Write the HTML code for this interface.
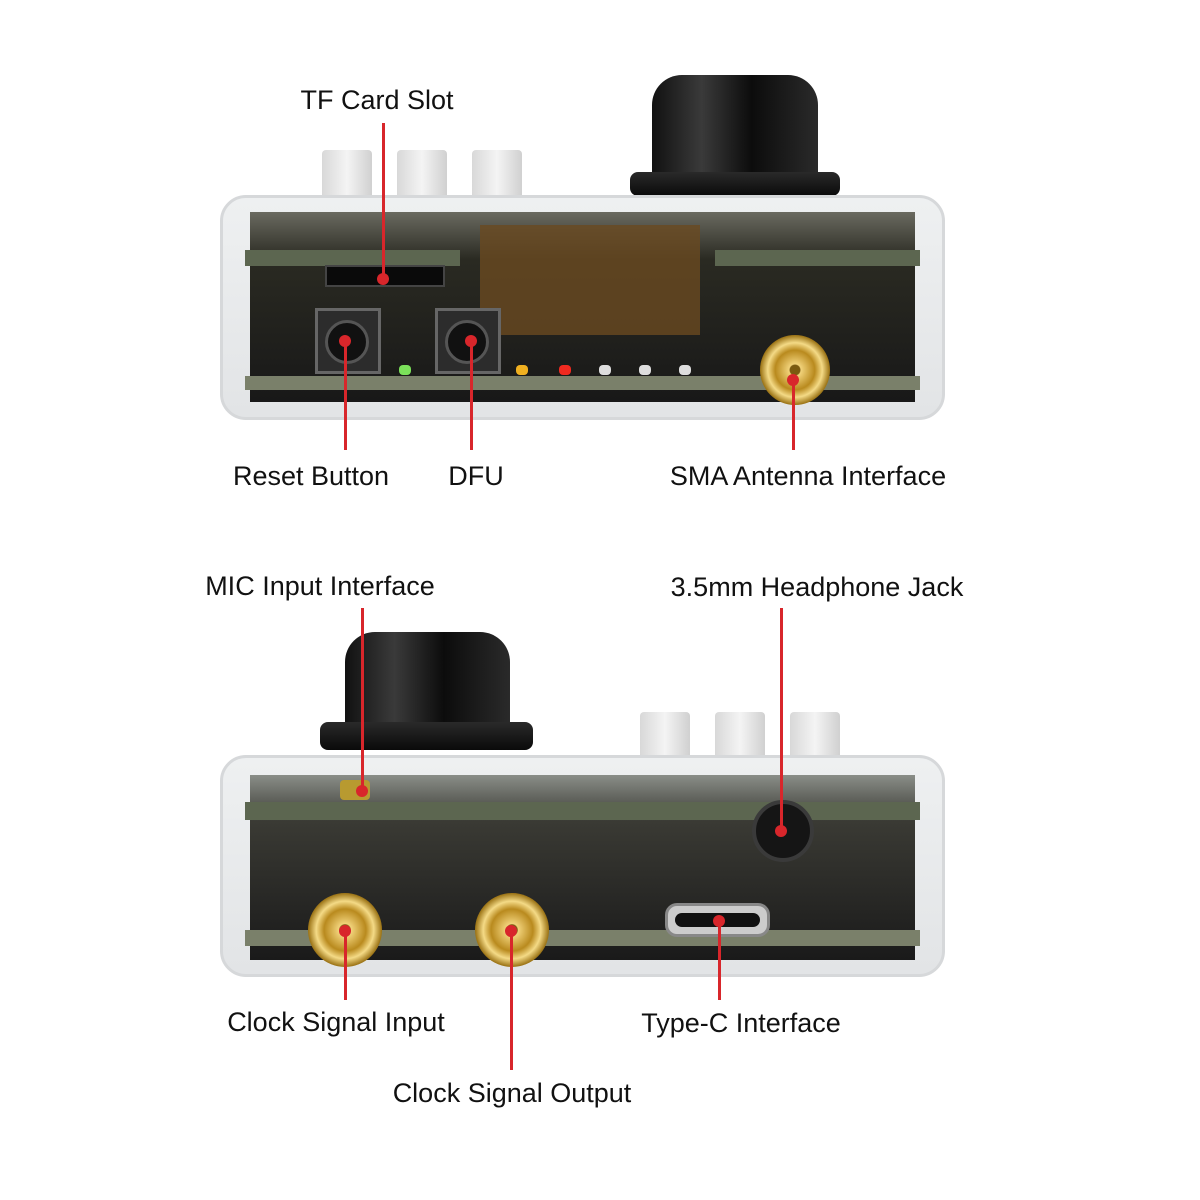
<!DOCTYPE html>
<html><head><meta charset="utf-8"><style>
html,body{margin:0;padding:0;background:#fff;}
body{width:1200px;height:1200px;position:relative;overflow:hidden;font-family:"Liberation Sans",sans-serif;}
div{position:absolute;box-sizing:border-box;}
.lbl{font-size:27px;color:#111;white-space:nowrap;transform:translateX(-50%);line-height:30px;}
.rl{background:#d8262b;width:3px;}
.dot{width:12px;height:12px;border-radius:50%;background:#d8262b;}
.case{border:3px solid #d6d8da;border-radius:26px;background:linear-gradient(#eef0f1,#e2e4e6);}
.inner{background:#1f1f1f;}
.pcb{background:#5c6650;}
.wbtn{background:linear-gradient(90deg,#d8d8d8,#f4f4f4,#d0d0d0);border-radius:4px 4px 0 0;}
.sma{border-radius:50%;background:radial-gradient(circle,#7a5a10 0 10%,#f1d27a 12%,#b98a1e 40%,#f4da86 55%,#9c7416 70%,#e7c46a 85%,#caa045 100%);}
.led{width:12px;height:10px;border-radius:4px;}
</style></head><body>

<!-- TOP DEVICE -->
<div class="wbtn" style="left:322px;top:150px;width:50px;height:52px"></div>
<div class="wbtn" style="left:397px;top:150px;width:50px;height:52px"></div>
<div class="wbtn" style="left:472px;top:150px;width:50px;height:52px"></div>
<div style="left:652px;top:75px;width:166px;height:110px;border-radius:30px 30px 6px 6px;background:linear-gradient(90deg,#111,#3a3a3a 30%,#0c0c0c 60%,#2a2a2a)"></div>
<div style="left:630px;top:172px;width:210px;height:24px;border-radius:8px;background:linear-gradient(#2a2a2a,#0a0a0a)"></div>
<div class="case" style="left:220px;top:195px;width:725px;height:225px"></div>
<div class="inner" style="left:250px;top:212px;width:665px;height:190px;background:linear-gradient(#6a6a60,#2a2a22 25%,#181818)"></div>
<div style="left:480px;top:225px;width:220px;height:110px;background:#6a4a20;opacity:.8"></div>
<div class="pcb" style="left:245px;top:250px;width:215px;height:16px"></div>
<div class="pcb" style="left:715px;top:250px;width:205px;height:16px"></div>
<div class="pcb" style="left:245px;top:376px;width:675px;height:14px;background:#7a806a"></div>
<div style="left:325px;top:265px;width:120px;height:22px;background:#0a0a0a;border:2px solid #444"></div>
<div style="left:315px;top:308px;width:66px;height:66px;background:#2c2c2c;border:3px solid #666"></div>
<div style="left:435px;top:308px;width:66px;height:66px;background:#2c2c2c;border:3px solid #666"></div>
<div style="left:325px;top:320px;width:44px;height:44px;border-radius:50%;background:#111;border:3px solid #555"></div>
<div style="left:445px;top:320px;width:44px;height:44px;border-radius:50%;background:#111;border:3px solid #555"></div>
<div class="led" style="left:399px;top:365px;background:#7be05a"></div>
<div class="led" style="left:516px;top:365px;background:#f0b020"></div>
<div class="led" style="left:559px;top:365px;background:#f02a20"></div>
<div class="led" style="left:599px;top:365px;background:#ddd"></div>
<div class="led" style="left:639px;top:365px;background:#ddd"></div>
<div class="led" style="left:679px;top:365px;background:#ddd"></div>
<div class="sma" style="left:760px;top:335px;width:70px;height:70px"></div>

<div class="rl" style="left:382px;top:123px;height:157px"></div><div class="dot" style="left:377px;top:273px"></div>
<div class="rl" style="left:344px;top:340px;height:110px"></div><div class="dot" style="left:339px;top:335px"></div>
<div class="rl" style="left:470px;top:340px;height:110px"></div><div class="dot" style="left:465px;top:335px"></div>
<div class="rl" style="left:792px;top:378px;height:72px"></div><div class="dot" style="left:787px;top:374px"></div>

<div class="lbl" style="left:377px;top:85px">TF Card Slot</div>
<div class="lbl" style="left:311px;top:461px">Reset Button</div>
<div class="lbl" style="left:476px;top:461px">DFU</div>
<div class="lbl" style="left:808px;top:461px">SMA Antenna Interface</div>

<!-- BOTTOM DEVICE -->
<div class="wbtn" style="left:640px;top:712px;width:50px;height:50px"></div>
<div class="wbtn" style="left:715px;top:712px;width:50px;height:50px"></div>
<div class="wbtn" style="left:790px;top:712px;width:50px;height:50px"></div>
<div style="left:345px;top:632px;width:165px;height:100px;border-radius:30px 30px 6px 6px;background:linear-gradient(90deg,#111,#3a3a3a 30%,#0c0c0c 60%,#2a2a2a)"></div>
<div style="left:320px;top:722px;width:213px;height:28px;border-radius:8px;background:linear-gradient(#2a2a2a,#0a0a0a)"></div>
<div class="case" style="left:220px;top:755px;width:725px;height:222px"></div>
<div class="inner" style="left:250px;top:775px;width:665px;height:185px;background:linear-gradient(#8a8e88,#3a3a34 25%,#1a1a1a)"></div>
<div class="pcb" style="left:245px;top:802px;width:675px;height:18px"></div>
<div class="pcb" style="left:245px;top:930px;width:675px;height:16px;background:#7a806a"></div>
<div style="left:340px;top:780px;width:30px;height:20px;background:#b89a30;border-radius:4px"></div>
<div style="left:665px;top:903px;width:105px;height:34px;border-radius:12px;background:#ccc;border:3px solid #888"></div>
<div style="left:675px;top:913px;width:85px;height:14px;border-radius:7px;background:#111"></div>
<div style="left:752px;top:800px;width:62px;height:62px;border-radius:50%;background:#151515;border:4px solid #3a3a3a"></div>
<div class="sma" style="left:308px;top:893px;width:74px;height:74px"></div>
<div class="sma" style="left:475px;top:893px;width:74px;height:74px"></div>

<div class="rl" style="left:361px;top:608px;height:182px"></div><div class="dot" style="left:356px;top:785px"></div>
<div class="rl" style="left:780px;top:608px;height:222px"></div><div class="dot" style="left:775px;top:825px"></div>
<div class="rl" style="left:344px;top:930px;height:70px"></div><div class="dot" style="left:339px;top:925px"></div>
<div class="rl" style="left:510px;top:930px;height:140px"></div><div class="dot" style="left:505px;top:925px"></div>
<div class="rl" style="left:718px;top:920px;height:80px"></div><div class="dot" style="left:713px;top:915px"></div>

<div class="lbl" style="left:320px;top:571px">MIC Input Interface</div>
<div class="lbl" style="left:817px;top:572px">3.5mm Headphone Jack</div>
<div class="lbl" style="left:336px;top:1007px">Clock Signal Input</div>
<div class="lbl" style="left:741px;top:1008px">Type-C Interface</div>
<div class="lbl" style="left:512px;top:1078px">Clock Signal Output</div>
</body></html>
